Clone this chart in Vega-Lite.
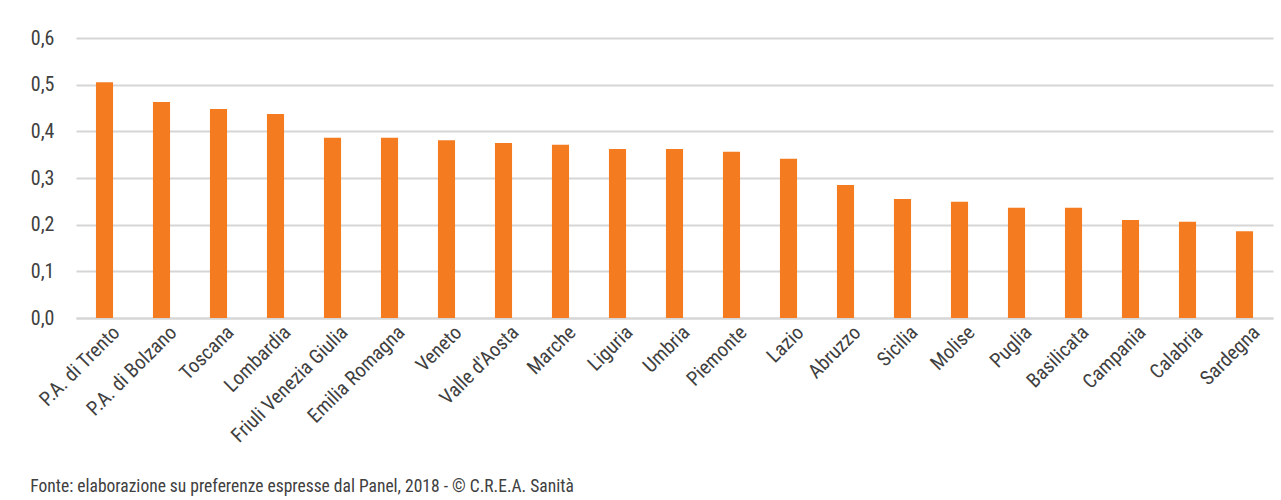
{
  "$schema": "https://vega.github.io/schema/vega-lite/v6.json",
  "width": 1197,
  "height": 280,
  "padding": {"left": 30, "top": 28, "right": 6, "bottom": 4},
  "background": "#ffffff",
  "config": {
    "font": "Roboto Condensed, DejaVu Sans Condensed, sans-serif",
    "view": {"stroke": null},
    "axis": {"labelFont": "Roboto Condensed, DejaVu Sans Condensed, sans-serif", "labelFontSize": 20, "labelColor": "#404040", "ticks": false}
  },
  "title": {
    "text": "Fonte: elaborazione su preferenze espresse dal Panel, 2018 - © C.R.E.A. Sanità",
    "orient": "bottom",
    "anchor": "start",
    "frame": "bounds",
    "font": "Roboto Condensed, DejaVu Sans Condensed, sans-serif",
    "fontSize": 17.5,
    "fontWeight": "normal",
    "color": "#404040",
    "offset": 32
  },
  "data": {
    "values": [
      {"regione": "P.A. di Trento", "valore": 0.505},
      {"regione": "P.A. di Bolzano", "valore": 0.463},
      {"regione": "Toscana", "valore": 0.448},
      {"regione": "Lombardia", "valore": 0.437},
      {"regione": "Friuli Venezia Giulia", "valore": 0.386},
      {"regione": "Emilia Romagna", "valore": 0.386},
      {"regione": "Veneto", "valore": 0.381},
      {"regione": "Valle d'Aosta", "valore": 0.375},
      {"regione": "Marche", "valore": 0.371},
      {"regione": "Liguria", "valore": 0.362},
      {"regione": "Umbria", "valore": 0.362},
      {"regione": "Piemonte", "valore": 0.356},
      {"regione": "Lazio", "valore": 0.341},
      {"regione": "Abruzzo", "valore": 0.285},
      {"regione": "Sicilia", "valore": 0.255},
      {"regione": "Molise", "valore": 0.249},
      {"regione": "Puglia", "valore": 0.236},
      {"regione": "Basilicata", "valore": 0.236},
      {"regione": "Campania", "valore": 0.210},
      {"regione": "Calabria", "valore": 0.206},
      {"regione": "Sardegna", "valore": 0.186}
    ]
  },
  "mark": {"type": "bar", "color": "#F47B20"},
  "encoding": {
    "x": {
      "field": "regione",
      "type": "nominal",
      "sort": null,
      "scale": {"paddingInner": 0.7, "paddingOuter": 0.35},
      "axis": {"title": null, "labelAngle": -45, "labelAlign": "right", "labelBaseline": "top", "labelPadding": 4, "labelOffset": 5, "domainColor": "#D6D6D6", "domainWidth": 2}
    },
    "y": {
      "field": "valore",
      "type": "quantitative",
      "scale": {"domain": [0, 0.6]},
      "axis": {
        "title": null,
        "values": [0, 0.1, 0.2, 0.3, 0.4, 0.5, 0.6],
        "labelExpr": "replace(format(datum.value, '.1f'), '.', ',')",
        "domain": false,
        "gridColor": "#D6D6D6",
        "gridWidth": 2,
        "labelPadding": 22
      }
    }
  }
}
